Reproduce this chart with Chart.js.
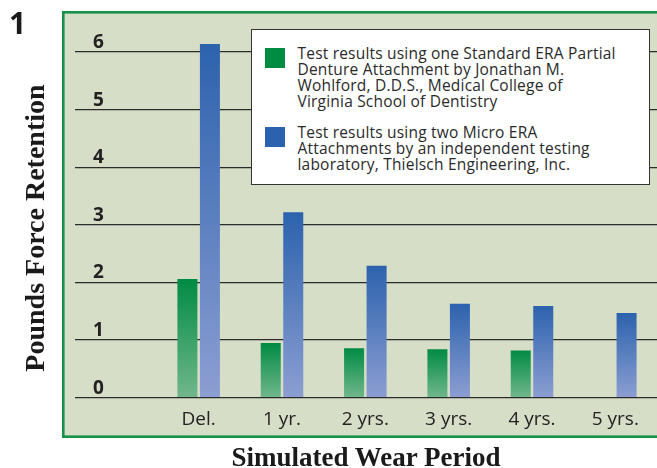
<!DOCTYPE html>
<html>
<head>
<meta charset="utf-8">
<script src="https://cdn.jsdelivr.net/npm/chart.js@4/dist/chart.umd.min.js"></script>
<style>
  html, body { margin: 0; padding: 0; background: #fff; }
  #wrap { position: relative; width: 657px; height: 468px; overflow: hidden; }
  canvas { position: absolute; left: 0; top: 0; }
  .fignum { position: absolute; left: 9px; top: 8px; font: bold 30px "Open Sans", sans-serif; color: #1a1a1a; line-height: 1; }
  .ytitle { position: absolute; left: 35px; top: 228px; transform: translate(-50%, -50%) rotate(-90deg); white-space: nowrap;
            font: bold 28px "Liberation Serif", serif; color: #1a1a1a; }
  .xtitle { position: absolute; left: 366px; top: 457px; transform: translate(-50%, -50%); white-space: nowrap;
            font: bold 27px "Liberation Serif", serif; color: #1a1a1a; }
  #legend { position: absolute; left: 251px; top: 29px; width: 397px; height: 154px; background: #fff; border: 1.5px solid #333; }
  .lbox { position: absolute; left: 12.5px; width: 20px; height: 20px; }
  .ltxt { position: absolute; left: 45.5px; white-space: pre; font: 15.5px "Open Sans", sans-serif; letter-spacing: 0.2px; line-height: 16px; color: #2a2a2a; }
</style>
</head>
<body>
<div id="wrap">
  <canvas id="c" width="657" height="468"></canvas>
  <div class="fignum">1</div>
  <div class="ytitle">Pounds Force Retention</div>
  <div class="xtitle">Simulated Wear Period</div>
  <div id="legend"></div>
</div>
<script>
const categories = ["Del.", "1 yr.", "2 yrs.", "3 yrs.", "4 yrs.", "5 yrs."];
const standardEra = [2.06, 0.95, 0.86, 0.84, 0.82, null];
const microEra = [6.14, 3.22, 2.29, 1.63, 1.59, 1.47];
const yTicks = [0, 1, 2, 3, 4, 5, 6];
const standardLabel = ["Test results using one Standard ERA Partial", "Denture Attachment by Jonathan M.", "Wohlford, D.D.S., Medical College of", "Virginia School of Dentistry"];
const microLabel = ["Test results using two Micro ERA", "Attachments by an independent testing", "laboratory, Thielsch Engineering, Inc."];

function gradFill(topColor, bottomColor) {
  return (ctx) => {
    const chart = ctx.chart;
    if (!chart.chartArea || !ctx.parsed || ctx.parsed.y == null) return topColor;
    const y = chart.scales.y;
    const top = y.getPixelForValue(ctx.parsed.y);
    const bot = y.getPixelForValue(0);
    if (!isFinite(top) || !isFinite(bot) || top === bot) return topColor;
    const g = chart.ctx.createLinearGradient(0, top, 0, bot);
    g.addColorStop(0, topColor);
    g.addColorStop(1, bottomColor);
    return g;
  };
}

const frame = {
  id: 'frame',
  beforeDraw(chart) {
    const c = chart.ctx;
    c.save();
    c.fillStyle = '#d6dec7';
    c.fillRect(63, 12, 700, 425);
    c.strokeStyle = '#17914a';
    c.lineWidth = 2.6;
    c.strokeRect(63.3, 12.3, 700, 424.4);
    c.restore();
  }
};

const chart = new Chart(document.getElementById('c'), {
  type: 'bar',
  data: {
    labels: categories,
    datasets: [
      { label: standardLabel.join(' '), data: standardEra, backgroundColor: gradFill('#008b43', '#72b78c'), clip: false,
        categoryPercentage: 0.54, barPercentage: 0.89 },
      { label: microLabel.join(' '), data: microEra, backgroundColor: gradFill('#2c62ad', '#8c9ed2'), clip: false,
        categoryPercentage: 0.54, barPercentage: 0.89 }
    ]
  },
  options: {
    responsive: false,
    animation: false,
    devicePixelRatio: 1,
    layout: { padding: { left: 93, top: 52, right: 0, bottom: 0 } },
    plugins: { legend: { display: false }, tooltip: { enabled: false }, title: { display: false } },
    scales: {
      x: {
        grid: { display: false, drawTicks: false },
        border: { display: false },
        ticks: { color: '#222', font: { family: 'Open Sans', size: 19 }, padding: 10.5 },
        afterFit(s) { s.height = 70.3; }
      },
      y: {
        min: 0, max: 6,
        afterBuildTicks(s) { s.ticks = yTicks.map(v => ({ value: v })); },
        grid: { color: '#2b2b2b', lineWidth: 1.3, drawTicks: true, tickLength: 82, tickColor: '#2b2b2b', tickWidth: 1.3 },
        border: { display: false },
        ticks: { color: '#222', font: { family: 'Open Sans', size: 19, weight: 'bold' }, crossAlign: 'far', labelOffset: -9.5, padding: 0 },
        afterFit(s) { s.width = 64; }
      }
    }
  },
  plugins: [frame]
});

// HTML legend built from the datasets
const legend = document.getElementById('legend');
const rows = [
  { lines: standardLabel, color: '#008b43', top: 17.5 },
  { lines: microLabel, color: '#2c62ad', top: 96.5 }
];
rows.forEach(r => {
  const box = document.createElement('div');
  box.className = 'lbox';
  box.style.top = r.top + 'px';
  box.style.background = r.color;
  legend.appendChild(box);
  const t = document.createElement('div');
  t.className = 'ltxt';
  t.style.top = (r.top - 2.7) + 'px';
  t.textContent = r.lines.join('\n');
  legend.appendChild(t);
});
</script>
</body>
</html>
